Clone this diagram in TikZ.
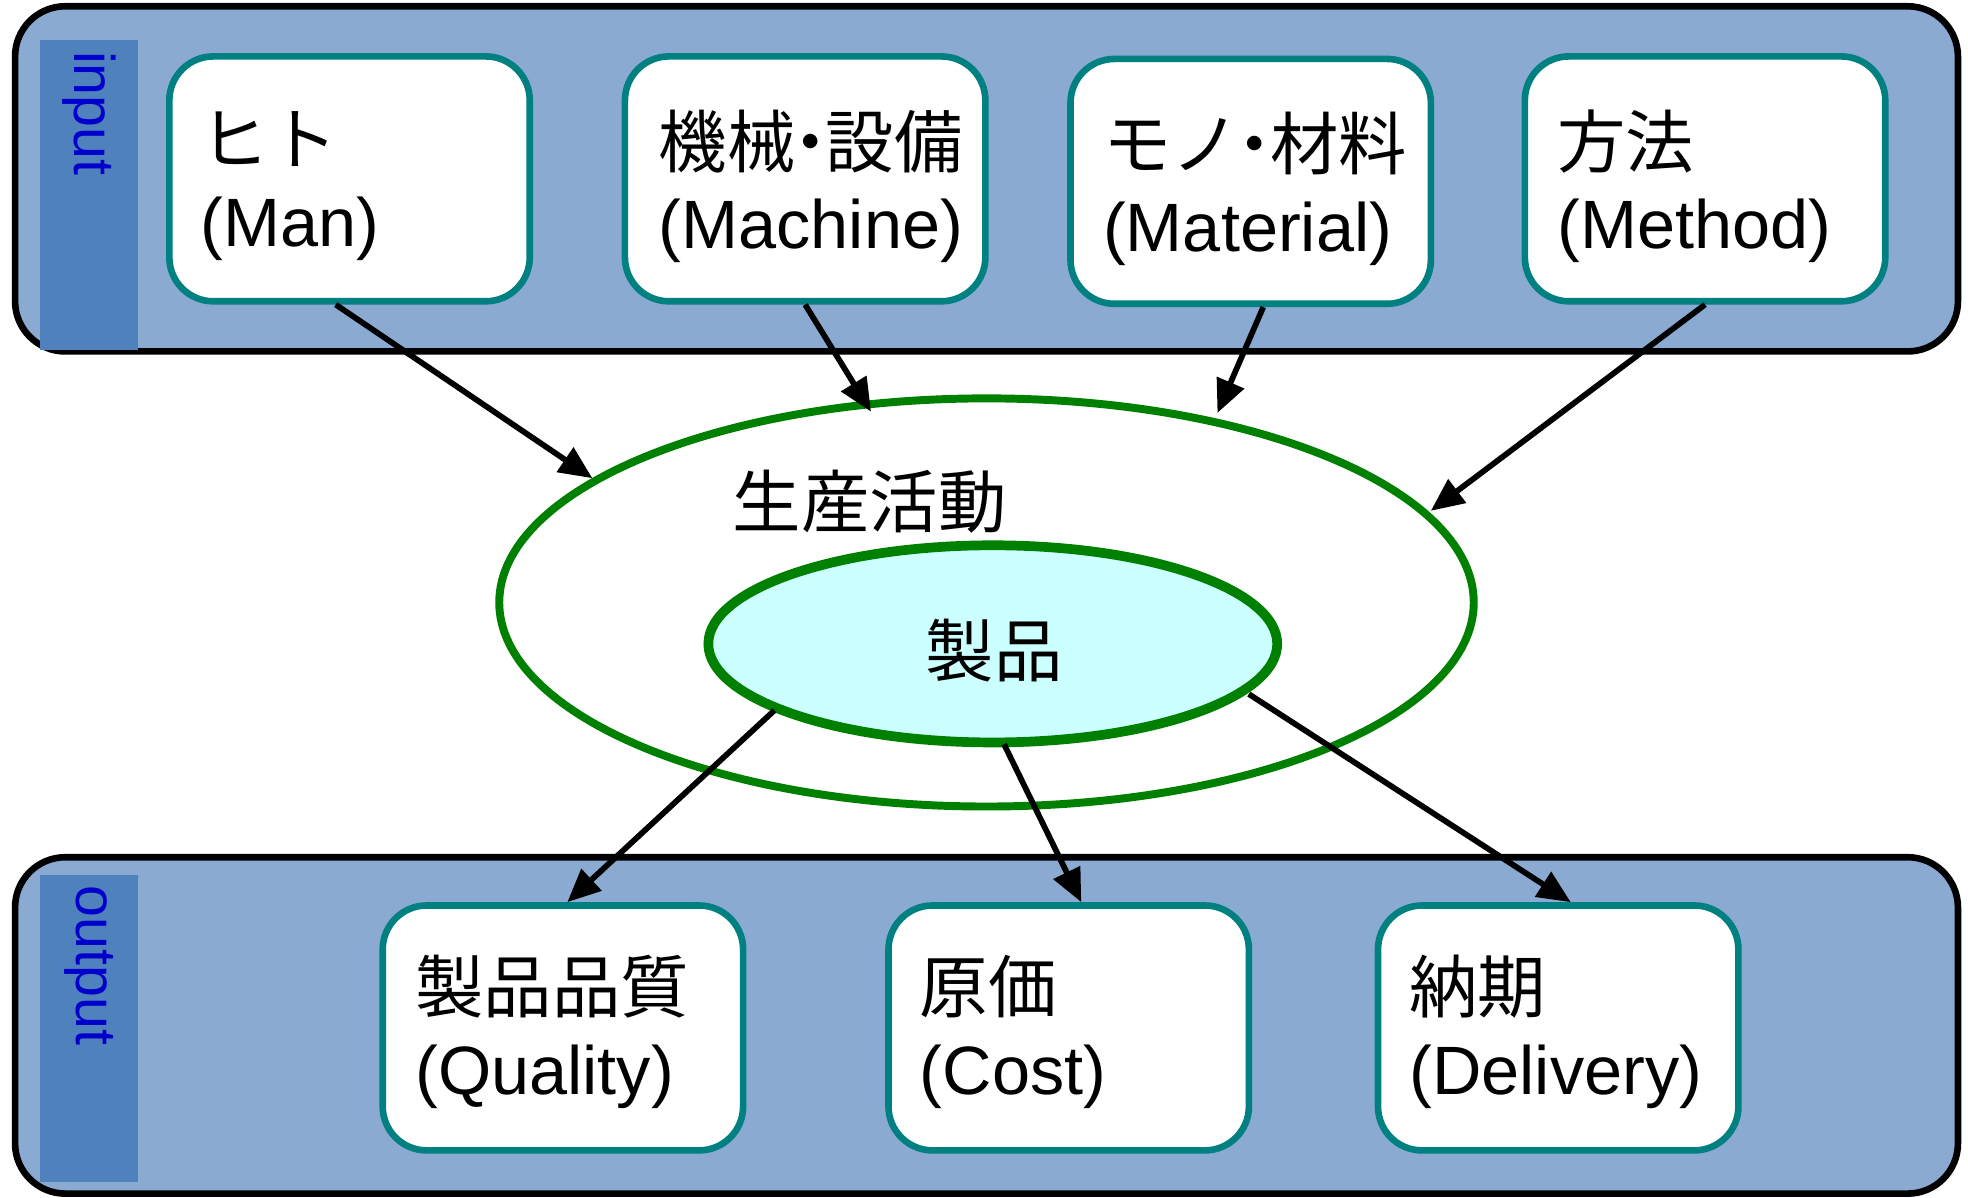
\documentclass[tikz,border=0pt]{standalone}
\usepackage{fontspec}
\setmainfont{Liberation Sans}
\newfontfamily\jp{Noto Sans CJK JP}
\usetikzlibrary{shapes.geometric,arrows.meta,calc}
\definecolor{panelfill}{RGB}{138,170,210}
\definecolor{stripfill}{RGB}{79,129,189}
\definecolor{tealc}{RGB}{0,128,128}
\definecolor{greenc}{RGB}{0,128,0}
\definecolor{prodfill}{RGB}{204,255,255}
\definecolor{labelblue}{RGB}{0,0,204}
\newcommand{\nakaguro}{\hspace{-0.28em}・\hspace{-0.28em}}
\begin{document}
\begin{tikzpicture}[x=0.01cm,y=-0.01cm,
 panel/.style={draw=black, line width=1.5pt, fill=panelfill, rounded corners=0.4cm},
 strip/.style={fill=stripfill, draw=none},
 itembox/.style={draw=tealc, line width=1.5pt, fill=white, rounded corners=0.35cm, minimum width=2.87cm, minimum height=1.95cm, inner sep=0pt},
 itemtext/.style={anchor=west, align=left, inner sep=0pt, font=\fontsize{15.5}{18.5}\selectfont},
 bigtext/.style={inner sep=0pt, font=\fontsize{15.5}{18.5}\selectfont\jp},
 striplabel/.style={rotate=-90, anchor=west, inner sep=0pt, text=labelblue, font=\fontsize{13}{15}\selectfont},
 arr/.style={-{Triangle[length=7.5pt,width=6.5pt]}, line width=1.3pt},
]
\useasboundingbox (0,0) rectangle (1568,954);
% panels
\draw[panel] (12,5) rectangle (1560,280);
\fill[strip] (32,32) rectangle (110,279);
\draw[panel] (12,683) rectangle (1560,951);
\fill[strip] (32,697) rectangle (110,942);
\node[striplabel] (inlab) at (71,40) {input};
\node[striplabel] (outlab) at (71,705) {output};
% input boxes
\node[itembox] (man) at (278.5,142.5) {};
\node[itembox] (mach) at (641.5,142.5) {};
\node[itembox] (mat) at (996.5,144.5) {};
\node[itembox] (meth) at (1358.5,142.5) {};
\node[itemtext] (mantext) at ($(man.west)+(27,6)$) {{\jp ヒト}\\(Man)};
\node[itemtext] (machtext) at ($(mach.west)+(29,6)$) {{\jp 機械\nakaguro 設備}\\(Machine)};
\node[itemtext] (mattext) at ($(mat.west)+(28,6)$) {{\jp モノ\nakaguro 材料}\\(Material)};
\node[itemtext] (methtext) at ($(meth.west)+(28,6)$) {{\jp 方法}\\(Method)};
% output boxes
\node[itembox] (qual) at (448.5,819) {};
\node[itembox] (cost) at (851.5,819) {};
\node[itembox] (deliv) at (1241.5,819) {};
\node[itemtext] (qualtext) at ($(qual.west)+(28,3)$) {{\jp 製品品質}\\(Quality)};
\node[itemtext] (costtext) at ($(cost.west)+(27,3)$) {{\jp 原価}\\(Cost)};
\node[itemtext] (delivtext) at ($(deliv.west)+(27,3)$) {{\jp 納期}\\(Delivery)};
% ellipses
\node[draw=greenc, line width=1.8pt, fill=white, ellipse, minimum width=7.76cm, minimum height=3.25cm, inner sep=0pt] (act) at (786,480) {};
\node[draw=greenc, line width=2.2pt, fill=prodfill, ellipse, minimum width=4.53cm, minimum height=1.57cm, inner sep=0pt] (prod) at (791,513) {};
\node[bigtext] (acttext) at (693,400) {生産活動};
\node[bigtext] (prodtext) at (792,518) {製品};
% arrow end points
\coordinate (a1) at (472,381);
\coordinate (a2) at (694,328);
\coordinate (a3) at (970,329);
\coordinate (a4) at (1140,407);
\coordinate (b1) at (617,566);
\coordinate (b2) at (800,593);
\coordinate (b3) at (995,553);
% arrows
\draw[arr] ([xshift=-0.11cm]man.south) -- (a1);
\draw[arr] (mach.south) -- (a2);
\draw[arr] ([xshift=0.1cm]mat.south) -- (a3);
\draw[arr] (meth.south) -- (a4);
\draw[arr] (b1) -- ([xshift=0.035cm]qual.north);
\draw[arr] (b2) -- ([xshift=0.1cm]cost.north);
\draw[arr] (b3) -- ([xshift=0.1cm]deliv.north);
\end{tikzpicture}
\end{document}
